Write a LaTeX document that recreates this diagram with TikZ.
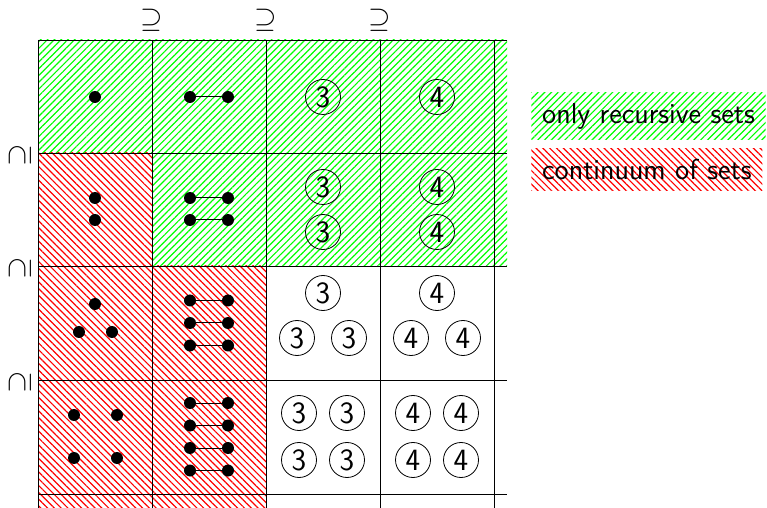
\documentclass[tikz,border=0pt]{standalone}
\usetikzlibrary{patterns.meta}
\begin{document}
\begin{tikzpicture}[x=0.5pt,y=-0.5pt,
  dot/.style={circle,fill=black,inner sep=0pt,minimum size=6pt},
  num/.style={circle,draw=black,line width=0.4pt,inner sep=0pt,minimum size=17.5pt,font=\fontsize{15.5}{18}\sffamily},
  link/.style={line width=0.5pt},
  gridline/.style={line width=0.45pt},
  recursive/.style={pattern={Lines[angle=45,distance=2.4pt,line width=0.6pt]},pattern color=green},
  continuum/.style={pattern={Lines[angle=-45,distance=2.4pt,line width=0.6pt]},pattern color=red},
  rel/.style={inner sep=0pt,font=\Large},
  legend/.style={anchor=north west,inner sep=5.4pt,font=\Large\sffamily,text=black}]
\useasboundingbox (0,0) rectangle (767,508);

% hatched regions
\fill[recursive] (38,40) rectangle (507,153);
\fill[recursive] (152,153) rectangle (507,266);
\fill[continuum] (38,153) rectangle (152,266);
\fill[continuum] (38,266) rectangle (266,508);

% grid
\foreach \y in {40,153,266,380,494} \draw[gridline] (38,\y) -- (507,\y);
\foreach \x in {38,152,266,380,494} \draw[gridline] (\x,40) -- (\x,508);

% inclusion signs
\node[rel] (t1) at (152,20) {$\supseteq$};
\node[rel] (t2) at (266,20) {$\supseteq$};
\node[rel] (t3) at (380,20) {$\supseteq$};
\node[rel,rotate=90] (l1) at (20,155) {$\supseteq$};
\node[rel,rotate=90] (l2) at (20,268) {$\supseteq$};
\node[rel,rotate=90] (l3) at (20,382) {$\supseteq$};

% row 1
\node[dot] (a1) at (95,97) {};
\node[dot] (b1l) at (190,97) {};
\node[dot] (b1r) at (228,97) {};
\draw[link] (b1l) -- (b1r);
\node[num] (c1) at (323,97) {3};
\node[num] (d1) at (437,97) {4};

% row 2
\node[dot] (a2a) at (95,198) {};
\node[dot] (a2b) at (95,220) {};
\node[dot] (b2al) at (190,198) {};
\node[dot] (b2ar) at (228,198) {};
\node[dot] (b2bl) at (190,220) {};
\node[dot] (b2br) at (228,220) {};
\draw[link] (b2al) -- (b2ar);
\draw[link] (b2bl) -- (b2br);
\node[num] (c2a) at (323,187) {3};
\node[num] (c2b) at (323,232) {3};
\node[num] (d2a) at (437,187) {4};
\node[num] (d2b) at (437,232) {4};

% row 3
\node[dot] (a3a) at (95,304) {};
\node[dot] (a3b) at (79,332) {};
\node[dot] (a3c) at (112,332) {};
\node[dot] (b3al) at (190,300.5) {};
\node[dot] (b3ar) at (228,300.5) {};
\node[dot] (b3bl) at (190,323) {};
\node[dot] (b3br) at (228,323) {};
\node[dot] (b3cl) at (190,345.5) {};
\node[dot] (b3cr) at (228,345.5) {};
\draw[link] (b3al) -- (b3ar);
\draw[link] (b3bl) -- (b3br);
\draw[link] (b3cl) -- (b3cr);
\node[num] (c3a) at (323,293) {3};
\node[num] (c3b) at (297,338) {3};
\node[num] (c3c) at (349,338) {3};
\node[num] (d3a) at (437,293) {4};
\node[num] (d3b) at (411,338) {4};
\node[num] (d3c) at (463,338) {4};

% row 4
\node[dot] (a4a) at (74,415) {};
\node[dot] (a4b) at (117,415) {};
\node[dot] (a4c) at (74,458) {};
\node[dot] (a4d) at (117,458) {};
\node[dot] (b4al) at (190,403) {};
\node[dot] (b4ar) at (228,403) {};
\node[dot] (b4bl) at (190,425.5) {};
\node[dot] (b4br) at (228,425.5) {};
\node[dot] (b4cl) at (190,448) {};
\node[dot] (b4cr) at (228,448) {};
\node[dot] (b4dl) at (190,470.5) {};
\node[dot] (b4dr) at (228,470.5) {};
\draw[link] (b4al) -- (b4ar);
\draw[link] (b4bl) -- (b4br);
\draw[link] (b4cl) -- (b4cr);
\draw[link] (b4dl) -- (b4dr);
\node[num] (c4a) at (299,413) {3};
\node[num] (c4b) at (347,413) {3};
\node[num] (c4c) at (299,460) {3};
\node[num] (c4d) at (347,460) {3};
\node[num] (d4a) at (413,413) {4};
\node[num] (d4b) at (461,413) {4};
\node[num] (d4c) at (413,460) {4};
\node[num] (d4d) at (461,460) {4};

% legend
\node[legend,recursive] (lg1) at (531,92) {only recursive sets};
\node[legend,continuum] (lg2) at (531,148) {continuum of sets};
\end{tikzpicture}
\end{document}
